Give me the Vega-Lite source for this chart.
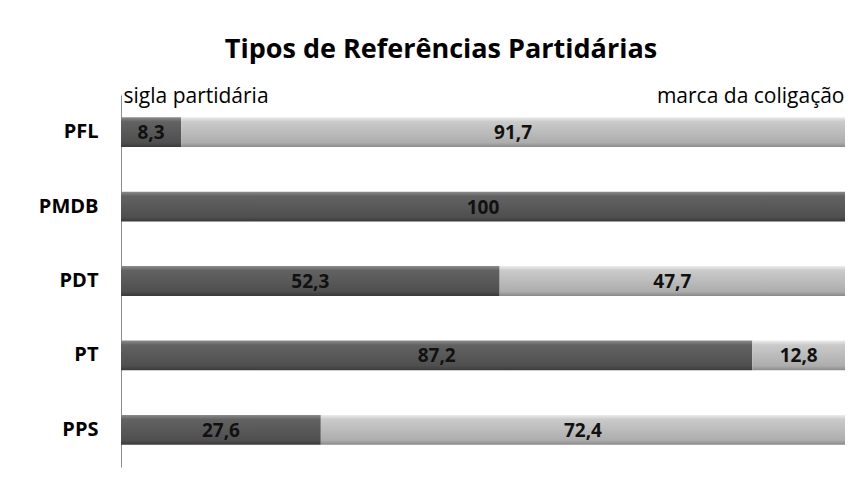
{
  "$schema": "https://vega.github.io/schema/vega-lite/v6.json",
  "width": 724,
  "height": 372,
  "autosize": {"type": "none"},
  "padding": {"left": 121, "top": 95, "right": 15, "bottom": 15},
  "background": "white",
  "title": {
    "text": "Tipos de Referências Partidárias",
    "font": "Open Sans",
    "fontSize": 27,
    "fontWeight": "bold",
    "color": "#000000",
    "anchor": "middle",
    "frame": "group",
    "dx": -42,
    "dy": 15,
    "baseline": "alphabetic",
    "offset": 15
  },
  "config": {
    "locale": {"number": {"decimal": ",", "thousands": ".", "grouping": [3], "currency": ["R$", ""]}},
    "view": {"stroke": null}
  },
  "data": {
    "values": [
      {"partido": "PFL", "tipo": "sigla partidária", "valor": 8.3},
      {"partido": "PFL", "tipo": "marca da coligação", "valor": 91.7},
      {"partido": "PMDB", "tipo": "sigla partidária", "valor": 100},
      {"partido": "PDT", "tipo": "sigla partidária", "valor": 52.3},
      {"partido": "PDT", "tipo": "marca da coligação", "valor": 47.7},
      {"partido": "PT", "tipo": "sigla partidária", "valor": 87.2},
      {"partido": "PT", "tipo": "marca da coligação", "valor": 12.8},
      {"partido": "PPS", "tipo": "sigla partidária", "valor": 27.6},
      {"partido": "PPS", "tipo": "marca da coligação", "valor": 72.4}
    ]
  },
  "transform": [
    {"stack": "valor", "groupby": ["partido"], "sort": [{"field": "tipo", "order": "descending"}], "as": ["v0", "v1"]}
  ],
  "encoding": {
    "y": {
      "field": "partido",
      "type": "nominal",
      "sort": ["PFL", "PMDB", "PDT", "PT", "PPS"],
      "scale": {"paddingInner": 0.6, "paddingOuter": 0.3},
      "axis": {
        "title": null,
        "domain": true,
        "domainColor": "#8c8c8c",
        "domainWidth": 1,
        "ticks": false,
        "labelFont": "Open Sans",
        "labelFontSize": 20,
        "labelFontWeight": "bold",
        "labelColor": "#000000",
        "labelPadding": 23
      }
    }
  },
  "layer": [
    {
      "mark": {"type": "bar"},
      "encoding": {
        "x": {
          "field": "v0",
          "type": "quantitative",
          "scale": {"domain": [0, 100], "nice": false},
          "axis": {
            "orient": "top",
            "values": [0, 100],
            "title": null,
            "domain": false,
            "ticks": false,
            "grid": false,
            "labelFont": "Open Sans",
            "labelFontSize": 21,
            "labelColor": "#000000",
            "labelBaseline": "alphabetic",
            "labelPadding": -7,
            "labelLimit": 400,
            "labelFlush": false,
            "labelOverlap": false,
            "labelExpr": "datum.value == 0 ? 'sigla partidária' : 'marca da coligação'",
            "labelAlign": {"expr": "datum.value == 0 ? 'left' : 'right'"},
            "labelOffset": {"expr": "datum.value == 0 ? 2 : -1"}
          }
        },
        "x2": {"field": "v1"},
        "fill": {
          "condition": {
            "test": "datum.tipo === 'sigla partidária'",
            "value": {"gradient": "linear", "x1": 0, "y1": 0, "x2": 0, "y2": 1,
              "stops": [{"offset": 0, "color": "#8c8c8c"}, {"offset": 0.15, "color": "#626262"}, {"offset": 0.85, "color": "#4f4f4f"}, {"offset": 1, "color": "#3a3a3a"}]}
          },
          "value": {"gradient": "linear", "x1": 0, "y1": 0, "x2": 0, "y2": 1,
            "stops": [{"offset": 0, "color": "#ececec"}, {"offset": 0.15, "color": "#cacaca"}, {"offset": 0.85, "color": "#adadad"}, {"offset": 1, "color": "#8a8a8a"}]}
        }
      }
    },
    {
      "transform": [
        {"fold": ["v0", "v1"], "as": ["borda", "pos"]},
        {"aggregate": [{"op": "mean", "field": "pos", "as": "meio"}], "groupby": ["partido", "tipo", "valor"]}
      ],
      "mark": {"type": "text", "font": "Open Sans", "fontSize": 19, "fontWeight": "bold", "color": "#111111", "baseline": "middle", "dy": 1},
      "encoding": {
        "x": {"field": "meio", "type": "quantitative"},
        "text": {"field": "valor", "type": "quantitative", "format": ".1~f"}
      }
    }
  ]
}
